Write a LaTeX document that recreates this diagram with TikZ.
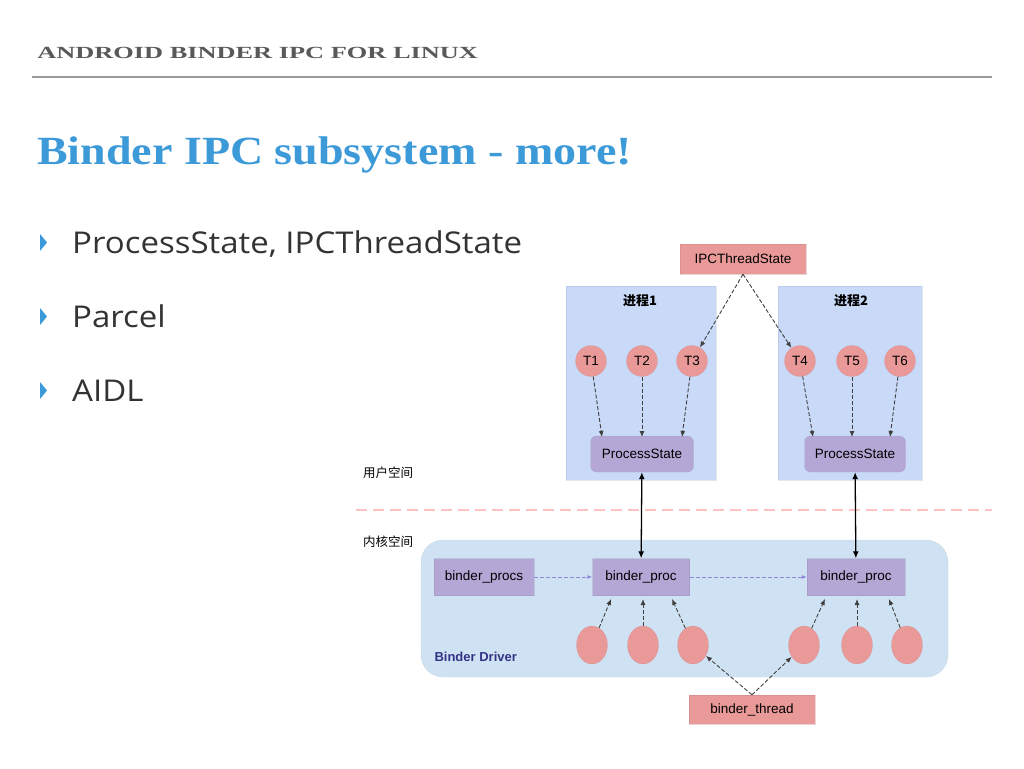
\documentclass[tikz,border=0pt]{standalone}
\usepackage{fontspec}
\setmainfont{Liberation Serif}
\newfontfamily\sansf{Open Sans}
\newfontfamily\arialf{Liberation Sans}
\newfontfamily\cjk{Noto Sans CJK SC}
\usetikzlibrary{arrows.meta,shapes.geometric}
\definecolor{pblue}{HTML}{C9DAF8}
\definecolor{dblue}{HTML}{CFE2F3}
\definecolor{pred}{HTML}{EA9999}
\definecolor{ppur}{HTML}{B4A7D6}
\definecolor{tblue}{HTML}{3D9AD9}
\begin{document}
\begin{tikzpicture}[x=1pt,y=-1pt,
  box/.style={draw=#1!80!black,draw opacity=0.3,fill=#1,inner sep=0pt,font=\arialf\fontsize{13.5}{15}\selectfont},
  circ/.style={circle,fill=pred,draw=pred!85!black,draw opacity=0.4,minimum size=31pt,inner sep=0pt,font=\arialf\fontsize{13.5}{15}\selectfont},
  oval/.style={ellipse,fill=pred,draw=pred!85!black,draw opacity=0.4,minimum width=31pt,minimum height=38pt,inner sep=0pt},
  da/.style={dash pattern=on 4pt off 2pt,line width=0.9pt,-{Latex[length=6pt,width=5pt]},black!75},
  cjkl/.style={font=\cjk\fontsize{12.5}{14}\selectfont},
  bullet/.style={anchor=base west,font=\sansf\fontsize{30}{34}\selectfont,text=black!80,xscale=1.1}]
\useasboundingbox (0,0) rectangle (1024,768);
\fill[white] (0,0) rectangle (1024,768);
\node[anchor=base west,inner sep=0pt,text=black!65,font=\fontsize{17}{20}\selectfont\bfseries,xscale=1.55] (hdr) at (37,59) {ANDROID BINDER IPC FOR LINUX};
\draw[black!40,line width=1.5pt] (32,77) -- (992,77);
\node[anchor=base west,inner sep=0pt,text=tblue,font=\fontsize{40}{44}\selectfont\bfseries,xscale=1.15] (ttl) at (37,164) {Binder IPC subsystem - more!};
\foreach \y/\t/\n in {253/{ProcessState, IPCThreadState}/b1,327/Parcel/b2,401/AIDL/b3}{
  \fill[tblue] (40,\y-19) -- (47,\y-10.5) -- (40,\y-2) -- cycle;
  \node[bullet,inner sep=0pt] (\n) at (72,\y) {\t};}
% process boxes
\node[box=pblue,minimum width=150pt,minimum height=194pt] (p1) at (641,383) {};
\node[box=pblue,minimum width=144pt,minimum height=194pt] (p2) at (850,383) {};
\node[font=\cjk\bfseries\fontsize{13}{14}\selectfont] (l1) at (640,301) {进程1};
\node[font=\cjk\bfseries\fontsize{13}{14}\selectfont] (l2) at (851,301) {进程2};
\node[box=pred,minimum width=126pt,minimum height=30pt] (ipc) at (743,259) {IPCThreadState};
\foreach \n/\x in {T1/591,T2/642,T3/692,T4/800,T5/852,T6/900}{\node[circ] (\n) at (\x,361) {\n};}
\node[box=ppur,rounded corners=6pt,minimum width=103pt,minimum height=36pt] (ps1) at (642,454) {ProcessState};
\node[box=ppur,rounded corners=6pt,minimum width=101pt,minimum height=36pt] (ps2) at (855,454) {ProcessState};
\coordinate (a1) at (602,437); \coordinate (a2) at (642,437); \coordinate (a3) at (682,437);
\coordinate (a4) at (813,437); \coordinate (a5) at (852,437); \coordinate (a6) at (890,437);
\draw[da] (ipc.south) -- (T3);
\draw[da] (ipc.south) -- (T4);
\foreach \i in {1,...,6}{\draw[da] (T\i) -- (a\i);}
% labels and divider
\node[cjkl] (us) at (388,473) {用户空间};
\node[cjkl] (ks) at (388,542) {内核空间};
\draw[pink!80!red!60,line width=1.8pt,dash pattern=on 11pt off 6pt] (356,510) -- (992,510);
% driver
\node[box=dblue,rounded corners=22pt,minimum width=527pt,minimum height=137pt] (drv) at (684.5,608.5) {};
\node[anchor=west,text=blue!40!black!80,font=\arialf\bfseries\fontsize{13}{15}\selectfont] (bd) at (431,657) {Binder Driver};
\node[box=ppur,minimum width=100pt,minimum height=37pt] (bps) at (484,577) {binder\_procs};
\node[box=ppur,minimum width=97pt,minimum height=37pt] (bp1) at (641,577) {binder\_proc};
\node[box=ppur,minimum width=98pt,minimum height=37pt] (bp2) at (856,577) {binder\_proc};
\draw[ppur!80!blue,dash pattern=on 4pt off 2pt,line width=0.9pt,-{Latex[length=5pt,width=4pt]}] (bps) -- (bp1);
\draw[ppur!80!blue,dash pattern=on 4pt off 2pt,line width=0.9pt,-{Latex[length=5pt,width=4pt]}] (bp1) -- (bp2);
\draw[{Latex[length=7pt,width=6pt]}-{Latex[length=7pt,width=6pt]},line width=1.3pt] (ps1) -- (bp1);
\draw[{Latex[length=7pt,width=6pt]}-{Latex[length=7pt,width=6pt]},line width=1.3pt] (ps2) -- (bp2);
\foreach \n/\x in {c1/592,c2/643,c3/693,c4/804,c5/857,c6/907}{\node[oval] (\n) at (\x,645) {};}
\coordinate (d1) at (611,599); \coordinate (d2) at (643,599); \coordinate (d3) at (672,599);
\coordinate (d4) at (825,599); \coordinate (d5) at (857,599); \coordinate (d6) at (889,599);
\foreach \i in {1,...,6}{\draw[da] (c\i) -- (d\i);}
\node[box=pred,minimum width=126pt,minimum height=29pt] (bt) at (752,709.5) {binder\_thread};
\draw[da] (bt.north) -- (c3);
\draw[da] (bt.north) -- (c4);
\end{tikzpicture}
\end{document}
